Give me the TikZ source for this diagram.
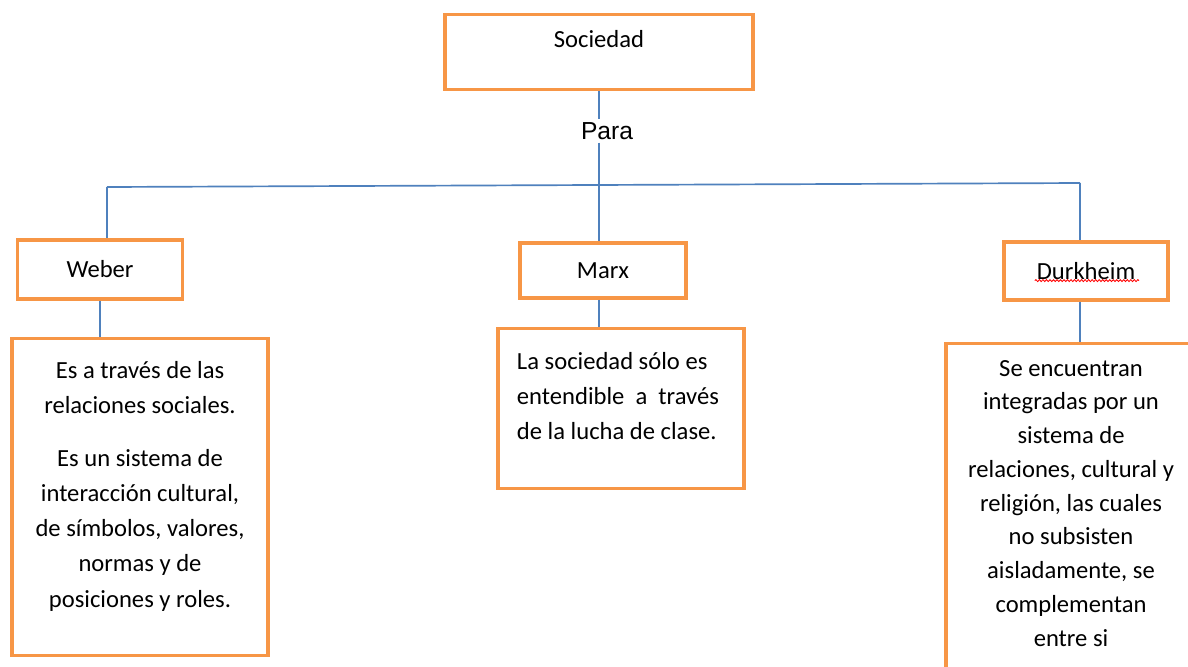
\documentclass[tikz,border=0pt]{standalone}
\usepackage{fontspec}
\setmainfont{Carlito}
\newfontfamily\parafont{Liberation Sans}
\usetikzlibrary{decorations.pathmorphing}
\definecolor{boxorange}{HTML}{F79646}
\definecolor{linkblue}{HTML}{4F81BD}
% text block of a box: width, height, top space, contents
\newcommand{\boxtext}[4]{\begin{minipage}[c][#2][t]{#1}\vspace*{#3}#4\end{minipage}}
\begin{document}
\begin{tikzpicture}[x=0.025cm, y=-0.025cm,
    orangebox/.style={draw=boxorange, line width=2.4pt, inner sep=0pt, fill=white,
      font=\fontsize{17.5}{25}\selectfont},
    bluelink/.style={linkblue, line width=1.2pt}]
  \clip (0,0) rectangle (1188,666);
  \fill[white] (0,0) rectangle (1188,666);

  % Boxes
  \node[orangebox, anchor=north] (soc) at (599,13)
    {\boxtext{7.7cm}{1.875cm}{5.9pt}{\centering\strut Sociedad}};
  \node[font=\parafont\fontsize{17.5}{21}\selectfont, inner sep=2pt] (para) at (607,131) {Para};

  \node[orangebox, minimum width=4.125cm, minimum height=1.475cm] (weber) at (100,269.5) {Weber};
  \node[orangebox, minimum width=4.15cm, minimum height=1.375cm] (marx) at (603,270.5) {Marx};
  \node[orangebox, minimum width=4.1cm, minimum height=1.45cm] (durk) at (1086,271) {Durkheim};

  \node[orangebox, anchor=north] (webertxt) at (140,337)
    {\boxtext{6.4cm}{7.925cm}{10.8pt}{\centering\strut Es a través de las\\ relaciones sociales.\par
      \vspace{12.5pt}Es un sistema de\\ interacción cultural,\\ de símbolos, valores,\\
      normas y de\\ posiciones y roles.}};
  \node[orangebox, anchor=north] (marxtxt) at (621,327)
    {\boxtext{6.15cm}{4cm}{11.5pt}{\raggedright\leftskip=0.475cm\strut La sociedad sólo es\\
      entendible\ \ a\ \ través\\ de la lucha de clase.}};
  \node[orangebox, anchor=north, font=\fontsize{17.5}{24}\selectfont] (durktxt) at (1071,342)
    {\boxtext{6.25cm}{8.7cm}{6.2pt}{\centering\strut Se encuentran\\ integradas por un\\ sistema de\\
      relaciones, cultural y\\ religión, las cuales\\ no subsisten\\ aisladamente, se\\
      complementan\\ entre si}};

  % Connectors
  \coordinate (jl) at (107,187);
  \coordinate (jr) at (1080,183);
  \draw[bluelink] (soc.south) -- (soc.south |- para.north);
  \draw[bluelink] (para.south -| soc.south) -- (soc.south |- marx.north);
  \draw[bluelink] (jl) -- (jr);
  \draw[bluelink] (jl) -- (jl |- weber.north);
  \draw[bluelink] (jr) -- (jr |- durk.north);
  \draw[bluelink] (weber.south) -- (weber.south |- webertxt.north);
  \draw[bluelink] (soc.south |- marx.south) -- (soc.south |- marxtxt.north);
  \draw[bluelink] (jr |- durk.south) -- (jr |- durktxt.north);

  \draw[red, line width=0.6pt, decorate, decoration={snake, amplitude=0.7pt, segment length=2.5pt}]
    ([xshift=-1.28cm, yshift=-0.24cm]durk.center) -- ([xshift=1.33cm, yshift=-0.24cm]durk.center);
\end{tikzpicture}
\end{document}
